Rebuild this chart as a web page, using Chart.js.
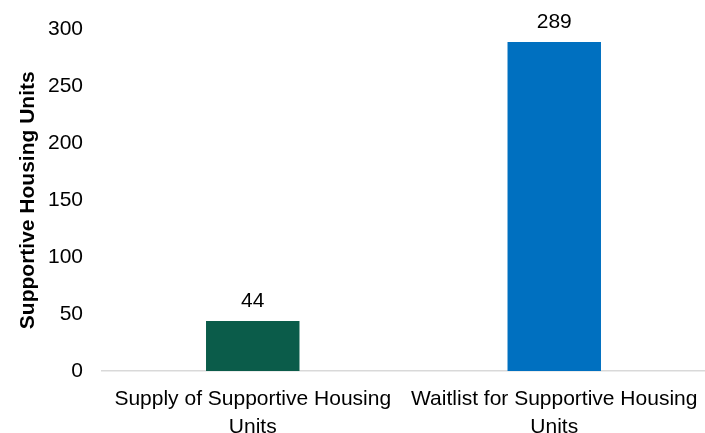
<!DOCTYPE html>
<html>
<head>
<meta charset="utf-8">
<script src="https://cdn.jsdelivr.net/npm/chart.js@4/dist/chart.umd.min.js"></script>
<style>
  html, body { margin: 0; padding: 0; background: #fff; }
  #wrap { width: 705px; height: 433px; position: relative; }
</style>
</head>
<body>
<div id="wrap"><canvas id="c"></canvas></div>
<script>
// Supportive housing: supply vs. waitlist
const categories = [
  ['Supply of Supportive Housing', 'Units'],
  ['Waitlist for Supportive Housing', 'Units']
];
const unitCounts = [44, 289];
const barColors = ['#0b5c4a', '#0070c0'];
const yTicks = [0, 50, 100, 150, 200, 250, 300];
const yTitle = 'Supportive Housing Units';

const FONT = '"Liberation Sans", Arial, sans-serif';

// Value labels above each bar
const barValueLabels = {
  id: 'barValueLabels',
  afterDatasetsDraw(chart) {
    const ctx = chart.ctx;
    const meta = chart.getDatasetMeta(0);
    ctx.save();
    ctx.font = '21px ' + FONT;
    ctx.fillStyle = '#000';
    ctx.textAlign = 'center';
    ctx.textBaseline = 'alphabetic';
    meta.data.forEach((bar, i) => {
      ctx.fillText(String(unitCounts[i]), bar.x, bar.y - 14);
    });
    ctx.restore();
  }
};

new Chart(document.getElementById('c'), {
  type: 'bar',
  data: {
    labels: categories,
    datasets: [{
      data: unitCounts,
      backgroundColor: barColors,
      borderWidth: 0,
      barPercentage: 0.31,
      categoryPercentage: 1.0
    }]
  },
  options: {
    responsive: true,
    maintainAspectRatio: false,
    animation: false,
    events: [],
    layout: { padding: { top: 29.5, right: 0, left: 0, bottom: 0 } },
    plugins: {
      legend: { display: false },
      tooltip: { enabled: false }
    },
    scales: {
      x: {
        afterFit(scale) {
          scale.height = 62;
          scale.paddingLeft = 0;
          scale.paddingRight = 0;
        },
        grid: { display: false },
        border: { display: true, color: '#d9d9d9', width: 1.5 },
        ticks: {
          color: '#000',
          font: { family: FONT, size: 21, lineHeight: 1.3 },
          padding: 7,
          maxRotation: 0,
          autoSkip: false
        }
      },
      y: {
        min: 0,
        max: 300,
        afterBuildTicks(scale) {
          scale.ticks = yTicks.map(v => ({ value: v }));
        },
        afterFit(scale) {
          scale.width = 102;
          scale.paddingTop = 0;
          scale.paddingBottom = 0;
        },
        grid: { display: false },
        border: { display: false },
        ticks: {
          color: '#000',
          font: { family: FONT, size: 21 },
          padding: 11
        },
        title: {
          display: true,
          text: yTitle,
          color: '#000',
          font: { family: FONT, size: 21, weight: 'bold' },
          padding: { top: 16, bottom: 0 }
        }
      }
    }
  },
  plugins: [barValueLabels]
});
</script>
</body>
</html>
